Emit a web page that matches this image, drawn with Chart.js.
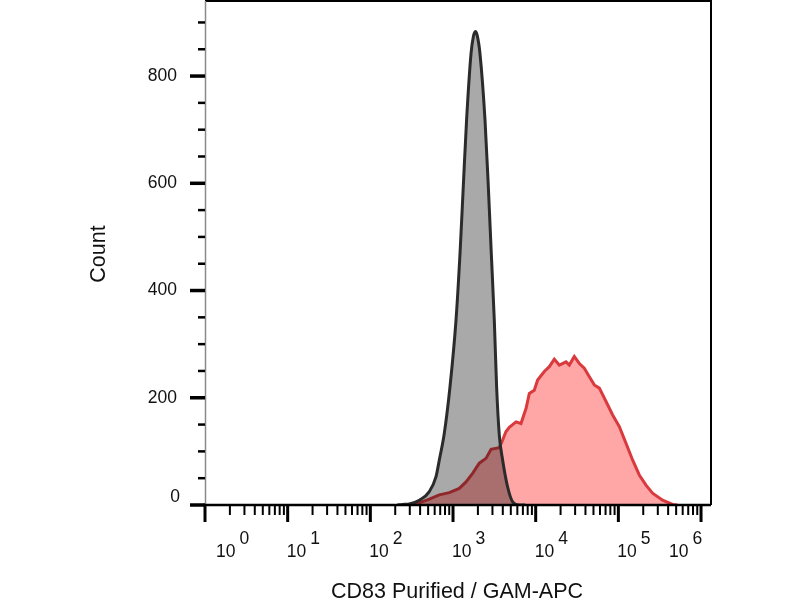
<!DOCTYPE html>
<html>
<head>
<meta charset="utf-8">
<script src="https://cdn.jsdelivr.net/npm/chart.js@4.4.1/dist/chart.umd.min.js"></script>
<style>
  html, body { margin: 0; padding: 0; background: #ffffff; }
  #wrap { width: 800px; height: 600px; }
</style>
</head>
<body>
<div id="wrap"><canvas id="c" width="800" height="600"></canvas></div>
<script>
// ---- data ----
const xTitle = "CD83 Purified / GAM-APC";
const yTitle = "Count";
const xExponents = [0, 1, 2, 3, 4, 5, 6];
const xMinorMultipliers = [2, 3, 4, 5, 6, 7, 8, 9];
const yMajorTicks = [0, 200, 400, 600, 800];
const yMinorTicks = [50, 100, 150, 250, 300, 350, 450, 500, 550, 650, 700, 750, 850, 900];

// control (gray) histogram
const grayX = [212, 244, 296, 391, 517, 623, 683, 785, 920, 1087, 1216, 1331, 1459, 1651, 1759, 1862, 1967, 2119, 2438, 2673, 2904, 3157, 3367, 3631, 3981, 4571, 5260, 6339, 7480];
const grayCounts = [0, 1, 2, 9, 25, 53, 84, 134, 221, 345, 470, 594, 718, 842, 873, 883, 875, 842, 718, 594, 469, 345, 221, 130, 84, 34, 6, 0, 0];

// stained (red) histogram
const redX = [258, 296, 391, 517, 683, 902, 1191, 1436, 1726, 2080, 2506, 2884, 3631, 3981, 4375, 4797, 5781, 6637, 7638, 8375, 9616, 10550, 12710, 14620, 16790, 19320, 23280, 25530, 29310, 33730, 38730, 44570, 51170, 58880, 70960, 85310, 102800, 123800, 148600, 179100, 216000, 259400, 342800, 452900, 516400];
const redCounts = [0, 0, 4, 11, 19, 23, 31, 43, 59, 78, 87, 104, 107, 121, 137, 145, 155, 152, 180, 208, 214, 233, 249, 258, 272, 261, 267, 261, 277, 264, 255, 239, 224, 218, 193, 168, 146, 115, 84, 56, 37, 22, 9, 1, 0];

// ---- styling / layout ----
const FONT = '"Liberation Sans", Arial, sans-serif';
const xLabelShift = { 0: 11, 6: -32 };  // label nudges at the axis ends
const DEFAULT_SHIFT = -1;

const axesPlugin = {
  id: 'flowAxes',
  afterDraw(chart) {
    const ctx = chart.ctx;
    const a = chart.chartArea;
    const xs = chart.scales.x, ys = chart.scales.y;
    ctx.save();
    // frame
    ctx.strokeStyle = '#000';
    ctx.lineWidth = 2;
    ctx.beginPath();
    ctx.moveTo(a.left, a.top); ctx.lineTo(a.right, a.top); ctx.lineTo(a.right, a.bottom);
    ctx.stroke();
    ctx.strokeStyle = '#8a8a8a';
    ctx.lineWidth = 1.5;
    ctx.beginPath();
    ctx.moveTo(a.left + 0.5, a.top); ctx.lineTo(a.left + 0.5, a.bottom);
    ctx.stroke();
    ctx.strokeStyle = '#000';
    ctx.lineWidth = 2.5;
    ctx.beginPath();
    ctx.moveTo(a.left - 2, a.bottom); ctx.lineTo(a.right, a.bottom);
    ctx.stroke();

    // y ticks
    ctx.strokeStyle = '#000';
    yMinorTicks.forEach(v => {
      const y = ys.getPixelForValue(v);
      ctx.lineWidth = 2.5;
      ctx.beginPath(); ctx.moveTo(a.left - 7, y); ctx.lineTo(a.left, y); ctx.stroke();
    });
    ctx.fillStyle = '#111';
    ctx.font = '17.5px ' + FONT;
    ctx.textAlign = 'right';
    ctx.textBaseline = 'middle';
    yMajorTicks.forEach(v => {
      const y = ys.getPixelForValue(v);
      ctx.lineWidth = 3.5;
      ctx.beginPath(); ctx.moveTo(a.left - 15, y); ctx.lineTo(a.left, y); ctx.stroke();
      const ly = v === 0 ? y - 8 : y;
      ctx.fillText(String(v), v === 0 ? 180 : 177, ly);
    });

    // x ticks (log decades)
    xExponents.forEach(e => {
      const base = Math.pow(10, e);
      const xp = xs.getPixelForValue(base);
      ctx.lineWidth = 3;
      ctx.beginPath(); ctx.moveTo(xp, a.bottom); ctx.lineTo(xp, a.bottom + 17); ctx.stroke();
      xMinorMultipliers.forEach(m => {
        const v = m * base;
        if (v > xs.max) return;
        const mx = xs.getPixelForValue(v);
        ctx.lineWidth = 2;
        ctx.beginPath(); ctx.moveTo(mx, a.bottom); ctx.lineTo(mx, a.bottom + 10); ctx.stroke();
      });
      // label 10^e
      const shift = (e in xLabelShift) ? xLabelShift[e] : DEFAULT_SHIFT;
      const lx = xp + shift;
      ctx.textAlign = 'left';
      ctx.textBaseline = 'alphabetic';
      ctx.font = '17.5px ' + FONT;
      ctx.fillText('10', lx, 557);
      const w = ctx.measureText('10').width;
      ctx.fillText(String(e), lx + w + 4, 543.5);
    });

    // axis titles
    ctx.font = '21.5px ' + FONT;
    ctx.textAlign = 'center';
    ctx.textBaseline = 'alphabetic';
    ctx.fillText(xTitle, 457, 598);
    ctx.save();
    ctx.translate(105, 254);
    ctx.rotate(-Math.PI / 2);
    ctx.fillText(yTitle, 0, 0);
    ctx.restore();
    ctx.restore();
  }
};

new Chart(document.getElementById('c'), {
  type: 'line',
  data: {
    datasets: [
      {
        label: 'Control',
        data: grayX.map((x, i) => ({ x: x, y: grayCounts[i] })),
        borderColor: '#2b2b2b',
        backgroundColor: 'rgba(10,10,10,0.35)',
        borderWidth: 3,
        fill: 'origin',
        pointRadius: 0,
        cubicInterpolationMode: 'monotone',
        order: 1
      },
      {
        label: 'CD83',
        data: redX.map((x, i) => ({ x: x, y: redCounts[i] })),
        borderColor: '#d93a3e',
        backgroundColor: 'rgba(255,0,0,0.35)',
        borderWidth: 3,
        fill: 'origin',
        pointRadius: 0,
        tension: 0,
        order: 2
      }
    ]
  },
  options: {
    responsive: false,
    animation: false,
    devicePixelRatio: 1,
    layout: { padding: { left: 205, right: 89, top: 1, bottom: 95 } },
    plugins: { legend: { display: false }, tooltip: { enabled: false } },
    scales: {
      x: { type: 'logarithmic', min: 1, max: 1320000, display: false },
      y: { type: 'linear', min: 0, max: 940, display: false }
    }
  },
  plugins: [axesPlugin]
});
</script>
</body>
</html>
